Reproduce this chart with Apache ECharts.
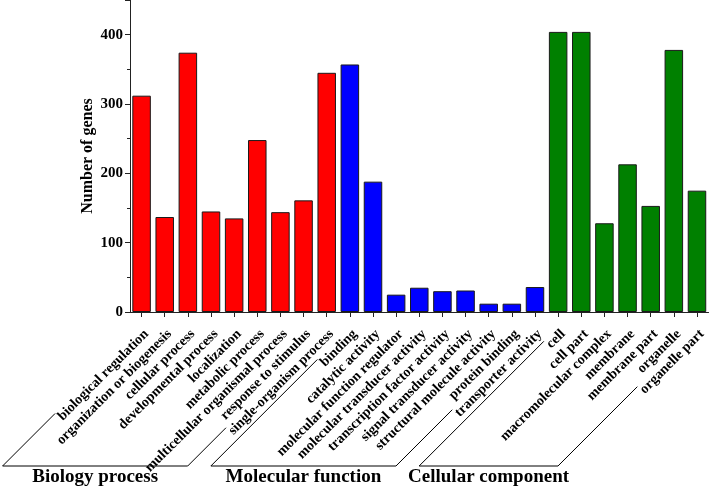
<!DOCTYPE html>
<html><head><meta charset="utf-8">
<script src="https://cdn.jsdelivr.net/npm/echarts@6/dist/echarts.min.js"></script>
<style>html,body{margin:0;padding:0;background:#fff}#c{width:709px;height:487px}</style>
</head><body><div id="c"></div>
<script>
const bpCategories = ['biological regulation','organization or biogenesis','cellular process','developmental process','localization','metabolic process','multicellular organismal process','response to stimulus','single-organism process'];
const bpValues = [312,137,374,145,135,248,144,161,345];
const mfCategories = ['binding','catalytic activity','molecular function regulator','molecular transducer activity','transcription factor activity','signal transducer activity','structural molecule activity','protein binding','transporter activity'];
const mfValues = [357,188,25,35,30,31,12,12,36];
const ccCategories = ['cell','cell part','macromolecular complex','membrane','membrane part','organelle','organelle part'];
const ccValues = [404,404,128,213,153,378,175];
const groupNames = ['Biology process','Molecular function','Cellular component'];
const groupColors = ['#ff0000','#0000ff','#008000'];
const yTicks = [0,100,200,300,400];
const yTitle = 'Number of genes';

const FONT = '"Liberation Serif","Times New Roman",serif';
const LABEL_SIZE = 14, LABEL_MARGIN = 15, BRACKET_Y = 466;

const groups = [[bpCategories,bpValues],[mfCategories,mfValues],[ccCategories,ccValues]];
const categories = [], data = [], ranges = [];
groups.forEach(([cats, vals], g) => {
  const first = categories.length;
  cats.forEach((c, i) => {
    categories.push(c);
    data.push({value: vals[i], itemStyle: {color: groupColors[g]}});
  });
  ranges.push([first, categories.length - 1]);
});

const chart = echarts.init(document.getElementById('c'), null, {renderer: 'canvas'});
chart.setOption({
  animation: false,
  grid: {left: 130, right: 0, top: 0, bottom: 175},
  xAxis: {
    type: 'category', data: categories,
    axisLine: {lineStyle: {color: '#222', width: 1}},
    axisTick: {show: true, alignWithLabel: true, interval: 0, length: 5, lineStyle: {color: '#222'}},
    axisLabel: {interval: 0, rotate: 45, align: 'right', verticalAlign: 'top', margin: LABEL_MARGIN,
      color: '#000', fontWeight: 'bold', fontSize: LABEL_SIZE, fontFamily: FONT}
  },
  yAxis: {
    type: 'value', min: 0, max: 450, interval: 100,
    axisLine: {show: true, lineStyle: {color: '#222', width: 1}},
    axisTick: {show: true, length: 5, lineStyle: {color: '#222'}},
    minorTick: {show: true, splitNumber: 2, length: 3, lineStyle: {color: '#222'}},
    splitLine: {show: false},
    axisLabel: {margin: 7, color: '#000', fontWeight: 'bold', fontSize: 15, fontFamily: FONT,
      formatter: v => yTicks.indexOf(v) >= 0 ? String(v) : ''}
  },
  series: [{
    type: 'bar', data: data, barCategoryGap: '20%',
    itemStyle: {borderColor: '#1a1a1a', borderWidth: 1}
  }]
});

const ctx = document.createElement('canvas').getContext('2d');
ctx.font = 'bold ' + LABEL_SIZE + 'px ' + FONT;
const y0 = chart.convertToPixel({yAxisIndex: 0}, 0);
function labelCorner(i) {
  const x = chart.convertToPixel({xAxisIndex: 0}, categories[i]);
  const d = ctx.measureText(categories[i]).width / Math.SQRT2;
  return [x - d, y0 + LABEL_MARGIN + d];
}
const graphics = [];
ranges.forEach(([a, b], g) => {
  const p1 = labelCorner(a), p2 = labelCorner(b);
  const bl = [p1[0] - (BRACKET_Y - p1[1]), BRACKET_Y];
  const br = [p2[0] - (BRACKET_Y - p2[1]), BRACKET_Y];
  graphics.push({type: 'polyline', shape: {points: [p1, bl, br, p2]}, style: {stroke: '#000', lineWidth: 1, fill: null}, silent: true});
  graphics.push({type: 'text', x: (bl[0] + br[0]) / 2, y: BRACKET_Y + 11,
    style: {text: groupNames[g], font: 'bold 19px ' + FONT, fill: '#000', align: 'center', verticalAlign: 'middle'}});
});
const yMid = (y0 + chart.convertToPixel({yAxisIndex: 0}, 450)) / 2;
graphics.push({type: 'text', x: 88, y: yMid, rotation: Math.PI / 2,
  style: {text: yTitle, font: 'bold 16px ' + FONT, fill: '#000', align: 'center', verticalAlign: 'middle'}});
chart.setOption({graphic: graphics});
</script></body></html>
